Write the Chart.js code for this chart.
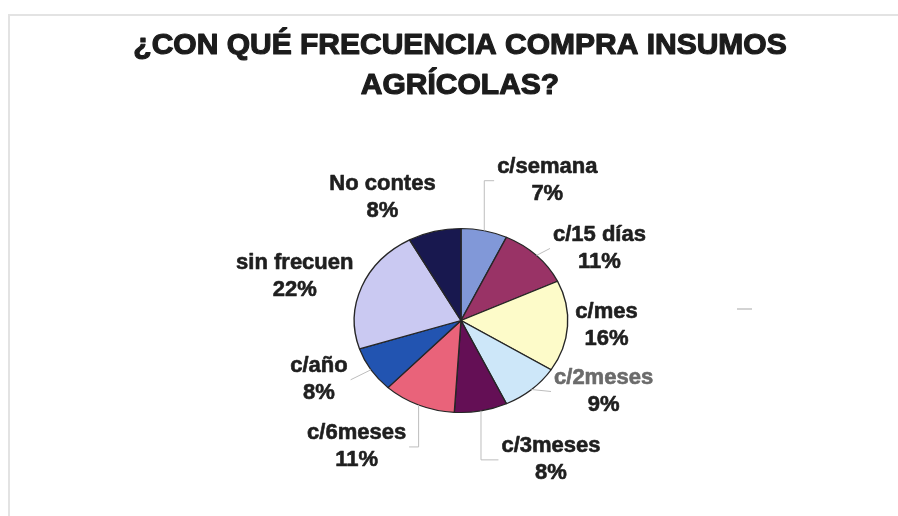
<!DOCTYPE html>
<html>
<head>
<meta charset="utf-8">
<script src="https://cdn.jsdelivr.net/npm/chart.js@4.4.1/dist/chart.umd.min.js"></script>
<style>
  html, body { margin: 0; padding: 0; background: #fff; }
  canvas { display: block; }
</style>
</head>
<body>
<canvas id="frecuencia-chart" width="898" height="516"></canvas>
<script>
const titulo = ['¿CON QUÉ FRECUENCIA COMPRA INSUMOS', 'AGRÍCOLAS?'];
const categorias = ['c/semana', 'c/15 días', 'c/mes', 'c/2meses', 'c/3meses', 'c/6meses', 'c/año', 'sin frecuen', 'No contes'];
const porcentajes = [7, 11, 16, 9, 8, 11, 8, 22, 8];
const colores = ['#8198d8', '#993366', '#fdfbc9', '#cde7f9', '#640f55', '#e9637a', '#2254b1', '#cac9f2', '#18184f'];

// estilo de las etiquetas
const coloresNombre = ['#1f1f1f', '#1f1f1f', '#1f1f1f', '#6b6b6b', '#1f1f1f', '#1f1f1f', '#1f1f1f', '#1f1f1f', '#1f1f1f'];
// cuanto se aleja cada etiqueta del borde de su porcion (x, y)
const desplazEtiquetas = [[63, -50], [63, -7], [39, -1], [72, 2], [70, 49], [-62, 42], [-52, 10], [-67, -10], [-52, -34]];

const fuente = '"Liberation Sans", Arial, sans-serif';
const ESTIRAR_X = 1.16; // el pastel es un ovalo, mas ancho que alto

// texto con un trazo fino encima para que se vea mas grueso
function textoGrueso(ctx, texto, x, y, color, grosor) {
    ctx.fillStyle = color;
    ctx.strokeStyle = color;
    ctx.lineWidth = grosor;
    ctx.lineJoin = 'round';
    ctx.fillText(texto, x, y);
    ctx.strokeText(texto, x, y);
}

// marco gris y titulo
const fondo = {
    id: 'fondo',
    beforeDraw: function(chart) {
        const ctx = chart.ctx;
        ctx.save();
        ctx.strokeStyle = '#e3e3e3';
        ctx.lineWidth = 2;
        ctx.beginPath();
        ctx.moveTo(9, 520);
        ctx.lineTo(9, 15);
        ctx.lineTo(900, 15);
        ctx.stroke();

        ctx.strokeStyle = '#c4c4c4';
        ctx.lineWidth = 1.5;
        ctx.beginPath();
        ctx.moveTo(737, 309);
        ctx.lineTo(752, 309);
        ctx.stroke();

        ctx.font = 'bold 30px ' + fuente;
        ctx.textAlign = 'center';
        ctx.textBaseline = 'middle';
        titulo.forEach(function(linea, i) {
            textoGrueso(ctx, linea, 460, 46 + i * 40, '#1c1c1c', 1.2);
        });
        ctx.restore();
    }
};

// aplana el pastel en horizontal
const pastelOvalado = {
    id: 'pastelOvalado',
    beforeDatasetsDraw: function(chart) {
        const arc = chart.getDatasetMeta(0).data[0];
        const ctx = chart.ctx;
        ctx.save();
        ctx.translate(arc.x, arc.y);
        ctx.scale(ESTIRAR_X, 1);
        ctx.translate(-arc.x, -arc.y);
    },
    afterDatasetsDraw: function(chart) {
        chart.ctx.restore();
    }
};

// nombre y porcentaje de cada porcion, con su linea guia
const etiquetas = {
    id: 'etiquetas',
    afterDraw: function(chart) {
        const ctx = chart.ctx;
        const meta = chart.getDatasetMeta(0);
        ctx.save();
        ctx.font = 'bold 22px ' + fuente;
        ctx.textAlign = 'center';
        ctx.textBaseline = 'middle';
        meta.data.forEach(function(arc, i) {
            const p = arc.getProps(['x', 'y', 'startAngle', 'endAngle', 'outerRadius'], true);
            const medio = (p.startAngle + p.endAngle) / 2;
            const bx = p.x + Math.cos(medio) * p.outerRadius * ESTIRAR_X;
            const by = p.y + Math.sin(medio) * p.outerRadius;
            const cx = bx + desplazEtiquetas[i][0];
            const cy = by + desplazEtiquetas[i][1];
            const nombre = categorias[i];
            const valor = porcentajes[i] + '%';
            const ancho = Math.max(ctx.measureText(nombre).width, ctx.measureText(valor).width);
            const izq = cx - ancho / 2;
            const der = cx + ancho / 2;

            if (bx < izq - 2 || bx > der + 2) {
                const fin = bx < izq ? izq - 3 : der + 3;
                const alto = Math.abs(cy - by);
                if (alto + Math.abs(fin - bx) > 19) {
                    ctx.strokeStyle = '#bdbdbd';
                    ctx.lineWidth = 1;
                    ctx.beginPath();
                    ctx.moveTo(bx, by);
                    if (alto > 15) {
                        ctx.lineTo(bx, cy);
                    }
                    ctx.lineTo(fin, cy);
                    ctx.stroke();
                }
            }

            textoGrueso(ctx, nombre, cx, cy - 13.5, coloresNombre[i], 0.6);
            textoGrueso(ctx, valor, cx, cy + 13.5, '#1f1f1f', 0.6);
        });
        ctx.restore();
    }
};

const canvas = document.getElementById('frecuencia-chart');

new Chart(canvas, {
    type: 'pie',
    data: {
        labels: categorias,
        datasets: [{
            data: porcentajes,
            backgroundColor: colores,
            borderColor: '#262626',
            borderWidth: 1.2,
            hoverOffset: 0
        }]
    },
    options: {
        responsive: false,
        animation: false,
        radius: 92,
        layout: {
            padding: { left: 361, right: 337, top: 220, bottom: 95 }
        },
        plugins: {
            legend: { display: false },
            title: { display: false },
            tooltip: { enabled: false }
        }
    },
    plugins: [fondo, pastelOvalado, etiquetas]
});
</script>
</body>
</html>
